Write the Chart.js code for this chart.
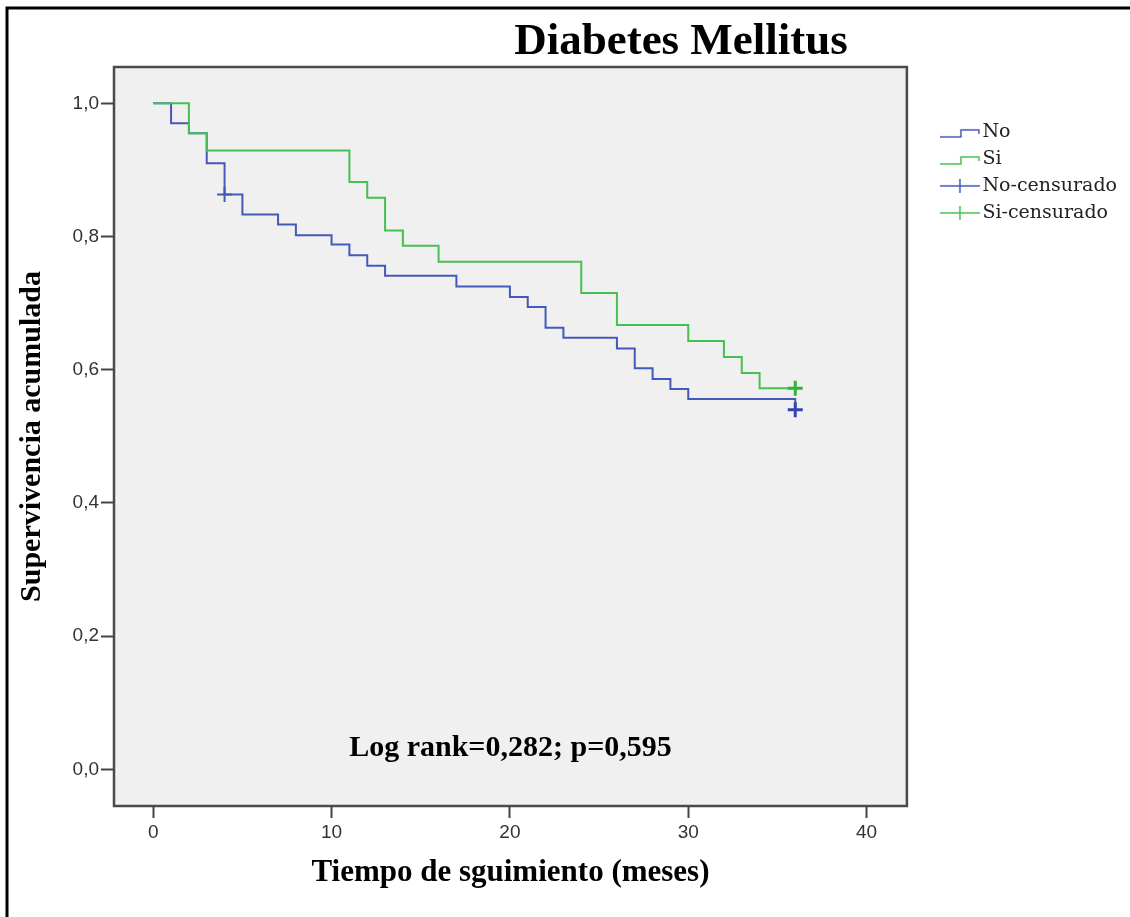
<!DOCTYPE html>
<html>
<head>
<meta charset="utf-8">
<script src="https://cdn.jsdelivr.net/npm/chart.js@4.4.1/dist/chart.umd.min.js"></script>
<style>
  html, body { margin: 0; padding: 0; background: #fff; }
  canvas { display: block; }
</style>
</head>
<body>
<canvas id="km" width="1130" height="917"></canvas>
<script>
// tiempos (meses) y supervivencia acumulada
const noTimes = [0, 1, 2, 3, 4, 5, 7, 8, 10, 11, 12, 13, 17, 20, 21, 22, 23, 26, 27, 28, 29, 30, 36];
const noSurv = [1, 0.970, 0.955, 0.910, 0.863, 0.833, 0.818, 0.802, 0.788, 0.772, 0.756, 0.741, 0.725, 0.709, 0.694, 0.663, 0.648, 0.632, 0.602, 0.586, 0.571, 0.556, 0.540];
const siTimes = [0, 2, 3, 11, 12, 13, 14, 16, 24, 26, 30, 32, 33, 34, 36];
const siSurv = [1, 0.955, 0.929, 0.882, 0.858, 0.809, 0.786, 0.762, 0.715, 0.667, 0.643, 0.619, 0.595, 0.572, 0.572];
const noCensTimes = [4, 36];
const noCensSurv = [0.863, 0.540];
const siCensTimes = [36];
const siCensSurv = [0.572];
const xTicks = [0, 10, 20, 30, 40];
const yTicks = [0, 0.2, 0.4, 0.6, 0.8, 1.0];
const yTickLabels = ['0,0', '0,2', '0,4', '0,6', '0,8', '1,0'];
const seriesNames = ['No', 'Si', 'No-censurado', 'Si-censurado'];

const blue = '#4459b9';
const green = '#45c052';
const blueDark = '#2f47ad';
const greenDark = '#2fb33d';

const pts = (xs, ys) => xs.map((t, i) => ({x: t, y: ys[i]}));

// iconos de la leyenda (escalon y cruz)
function legendIcon(color, kind) {
  const c = document.createElement('canvas');
  c.width = 80; c.height = 20;
  const g = c.getContext('2d');
  g.strokeStyle = color;
  g.lineWidth = 1.5;
  g.beginPath();
  if (kind === 'step') {
    g.moveTo(36, 15); g.lineTo(57, 15); g.lineTo(57, 8); g.lineTo(75, 8); g.lineTo(75, 12);
  } else {
    g.moveTo(36, 10); g.lineTo(76, 10);
    g.moveTo(56, 3); g.lineTo(56, 17);
  }
  g.stroke();
  return c;
}
const legendIcons = [
  legendIcon(blue, 'step'),
  legendIcon(green, 'step'),
  legendIcon(blue, 'cross'),
  legendIcon(green, 'cross')
];

const framePlugin = {
  id: 'frame',
  beforeDraw(chart) {
    const {ctx, chartArea: a} = chart;
    ctx.save();
    ctx.fillStyle = '#fff';
    ctx.fillRect(0, 0, chart.width, chart.height);
    ctx.fillStyle = '#f0f0f0';
    ctx.fillRect(a.left, a.top, a.width, a.height);
    ctx.strokeStyle = '#4a4a4a';
    ctx.lineWidth = 2.5;
    ctx.strokeRect(a.left, a.top, a.width, a.height);
    ctx.strokeStyle = '#000';
    ctx.lineWidth = 3;
    ctx.beginPath();
    ctx.moveTo(7, chart.height);
    ctx.lineTo(7, 8);
    ctx.lineTo(chart.width, 8);
    ctx.stroke();
    ctx.restore();
  },
  afterDraw(chart) {
    const {ctx, chartArea: a} = chart;
    ctx.save();
    ctx.fillStyle = '#000';
    ctx.textAlign = 'center';
    ctx.textBaseline = 'alphabetic';
    ctx.font = 'bold 45px "Liberation Serif"';
    ctx.fillText('Diabetes Mellitus', 681, 54);
    ctx.font = 'bold 30px "Liberation Serif"';
    ctx.fillText('Log rank=0,282; p=0,595', (a.left + a.right) / 2, 756);
    ctx.restore();
  }
};

new Chart(document.getElementById('km'), {
  type: 'line',
  data: {
    datasets: [
      {
        label: seriesNames[0],
        data: pts(noTimes, noSurv),
        borderColor: blue,
        borderWidth: 2,
        stepped: 'before',
        pointRadius: 0,
        fill: false,
        order: 3
      },
      {
        label: seriesNames[1],
        data: pts(siTimes, siSurv),
        borderColor: green,
        borderWidth: 2,
        stepped: 'before',
        pointRadius: 0,
        fill: false,
        order: 2
      },
      {
        label: seriesNames[2],
        data: pts(noCensTimes, noCensSurv),
        showLine: false,
        pointStyle: 'cross',
        pointRadius: 7.5,
        pointBorderWidth: [2, 3],
        pointBorderColor: [blue, blueDark],
        borderColor: blue,
        order: 1
      },
      {
        label: seriesNames[3],
        data: pts(siCensTimes, siCensSurv),
        showLine: false,
        pointStyle: 'cross',
        pointRadius: 7.5,
        pointBorderWidth: 3,
        pointBorderColor: greenDark,
        borderColor: green,
        order: 0
      }
    ]
  },
  options: {
    responsive: false,
    animation: false,
    events: [],
    devicePixelRatio: 1,
    layout: {padding: {top: 67, left: 0, right: 3, bottom: 0}},
    scales: {
      x: {
        type: 'linear',
        min: -2.2,
        max: 42.26,
        afterBuildTicks: s => { s.ticks = xTicks.map(v => ({value: v})); },
        afterFit: s => { s.height = 111; },
        border: {display: false},
        grid: {drawOnChartArea: false, drawTicks: true, tickLength: 12, tickWidth: 2, tickColor: '#444'},
        ticks: {
          color: '#333',
          font: {family: 'Liberation Sans', size: 19},
          padding: 3,
          maxRotation: 0,
          autoSkip: false,
          callback: (v, i) => String(xTicks[i])
        },
        title: {
          display: true,
          text: 'Tiempo de sguimiento (meses)',
          color: '#000',
          font: {family: 'Liberation Serif', size: 31, weight: 'bold'},
          padding: {top: 0, bottom: 25}
        }
      },
      y: {
        type: 'linear',
        min: -0.0551,
        max: 1.0545,
        afterBuildTicks: s => { s.ticks = yTicks.map(v => ({value: v})); },
        afterFit: s => { s.width = 114; },
        border: {display: false},
        grid: {drawOnChartArea: false, drawTicks: true, tickLength: 13, tickWidth: 2, tickColor: '#444'},
        ticks: {
          color: '#333',
          font: {family: 'Liberation Sans', size: 19},
          padding: 2,
          autoSkip: false,
          callback: (v, i) => yTickLabels[i]
        },
        title: {
          display: true,
          text: 'Supervivencia acumulada',
          color: '#000',
          font: {family: 'Liberation Serif', size: 30, weight: 'bold'},
          padding: {top: 14, bottom: 0}
        }
      }
    },
    plugins: {
      title: {display: false},
      tooltip: {enabled: false},
      legend: {
        position: 'right',
        align: 'start',
        title: {display: true, text: '', font: {size: 12}, padding: {top: 0, bottom: 33}},
        labels: {
          usePointStyle: true,
          pointStyleWidth: 58,
          padding: 8,
          color: '#222',
          font: {family: 'DejaVu Serif', size: 19},
          sort: (a, b) => a.datasetIndex - b.datasetIndex,
          generateLabels: chart => {
            const items = Chart.defaults.plugins.legend.labels.generateLabels(chart);
            items.forEach(it => { it.pointStyle = legendIcons[it.datasetIndex]; });
            return items;
          }
        }
      }
    }
  },
  plugins: [framePlugin]
});
</script>
</body>
</html>
